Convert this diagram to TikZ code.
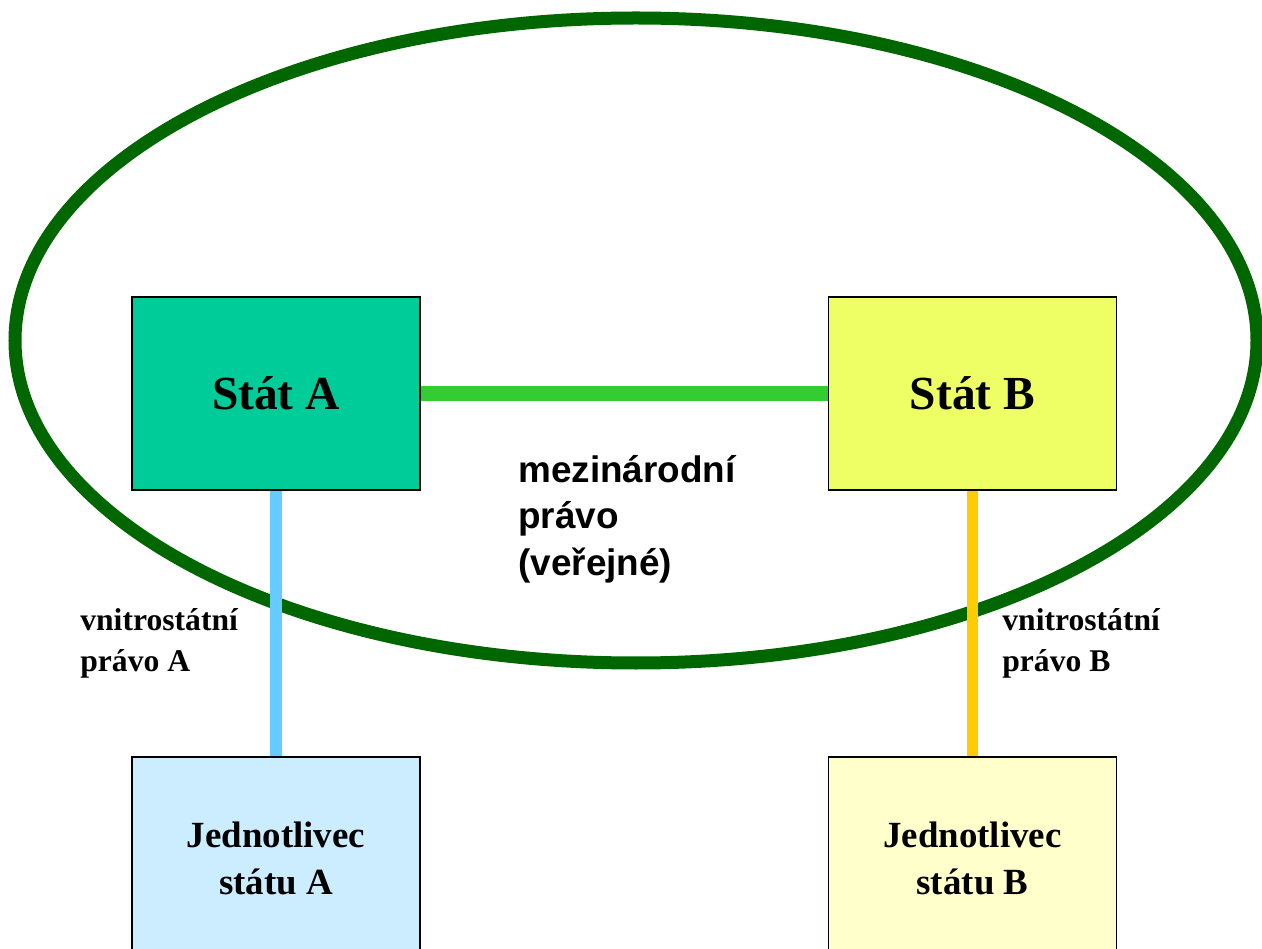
\documentclass[tikz,border=0pt]{standalone}
\usepackage{fontspec}
\setmainfont{Liberation Serif}
\newfontfamily\labelsans{Liberation Sans}
\definecolor{ovalgreen}{RGB}{0,102,0}
\definecolor{statAfill}{RGB}{0,204,153}
\definecolor{statBfill}{RGB}{238,255,102}
\definecolor{osobaAfill}{RGB}{204,236,255}
\definecolor{osobaBfill}{RGB}{255,255,204}
\definecolor{intlgreen}{RGB}{51,204,51}
\definecolor{domblue}{RGB}{102,204,255}
\definecolor{domorange}{RGB}{255,204,0}
\tikzset{
  statbox/.style={draw=black, line width=1pt, inner sep=0pt, minimum width=5.76cm, minimum height=3.86cm, align=center},
  pravolabel/.style={anchor=north west, inner sep=0pt, align=left, font=\fontsize{18}{23.2}\selectfont\bfseries}
}
\begin{document}
\begin{tikzpicture}[x=0.02cm,y=-0.02cm]
\useasboundingbox (0,0) rectangle (1262,949);
\draw [ovalgreen, line width=7.4pt] (636,340.5) ellipse [x radius=621, y radius=322.5];
\node [statbox, fill=statAfill, font=\fontsize{27}{33}\selectfont\bfseries] (statA) at (276,393.5) {Stát A};
\node [statbox, fill=statBfill, font=\fontsize{27}{33}\selectfont\bfseries] (statB) at (972.5,393.5) {Stát B};
\node [statbox, minimum height=4.06cm, fill=osobaAfill, font=\fontsize{21}{26.5}\selectfont\bfseries] (osobaA) at (276,858.5) {Jednotlivec\\státu A};
\node [statbox, minimum height=4.06cm, fill=osobaBfill, font=\fontsize{21}{26.5}\selectfont\bfseries] (osobaB) at (972.5,858.5) {Jednotlivec\\státu B};
\draw [intlgreen, line width=9pt] (statA.east) -- (statB.west);
\draw [domblue, line width=6.3pt] (statA.south) -- (osobaA.north);
\draw [domorange, line width=6.3pt] (statB.south) -- (osobaB.north);
\node [anchor=north west, inner sep=0pt, align=left, font=\fontsize{21}{26.5}\selectfont\labelsans\bfseries] (mezinarodni) at (518,455) {mezinárodní\\právo\\(veřejné)};
\node [pravolabel] (vnitroA) at (80,608) {vnitrostátní\\právo A};
\node [pravolabel] (vnitroB) at (1002,608) {vnitrostátní\\právo B};
\end{tikzpicture}
\end{document}
